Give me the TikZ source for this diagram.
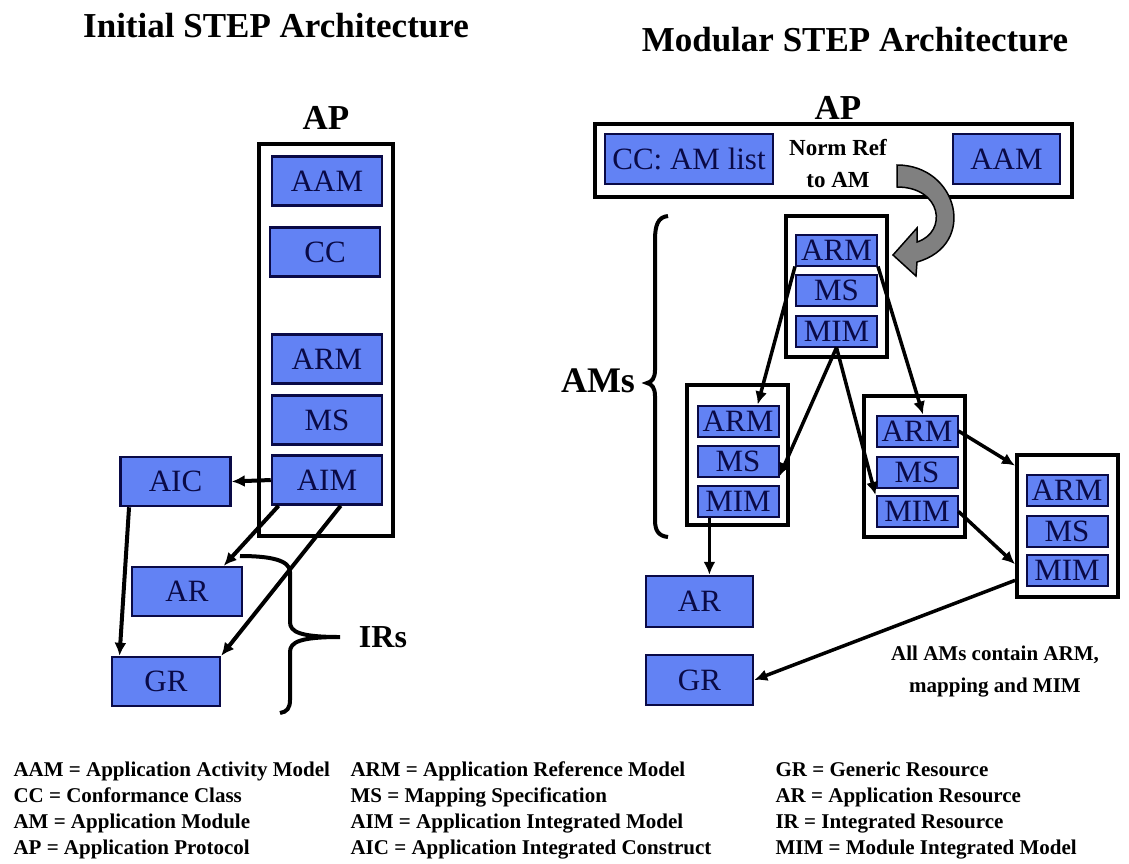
\documentclass[tikz,border=0pt]{standalone}
\usepackage{fontspec}
\setmainfont{Liberation Serif}
\usepackage{tikz}
\usetikzlibrary{arrows.meta,calc}
\definecolor{modblue}{RGB}{98,130,244}
\definecolor{modnavy}{RGB}{10,10,70}
\definecolor{normgray}{RGB}{128,128,128}
\newcommand{\pxfont}[1]{\fontsize{#1}{#1}\selectfont}

\begin{document}
\begin{tikzpicture}[x=1pt,y=-1pt,>=Latex,
  part/.style={draw=modnavy,line width=2.5pt,fill=modblue,inner sep=0pt,text=modnavy,font=\pxfont{31}},
  bigpart/.style={part,minimum width=110pt,minimum height=49pt},
  subpart/.style={part,line width=2pt,minimum width=81pt,minimum height=31pt},
  frame/.style={draw,line width=4pt,fill=white,inner sep=0pt},
  link/.style={line width=4pt,-{Latex[length=13pt,width=12pt]}},
  heading/.style={font=\bfseries\pxfont{35}},
  key/.style={anchor=base west,font=\bfseries\pxfont{21}}]
\useasboundingbox (0,0) rectangle (1129,863);

\node[heading] (tInit) at (276,26) {Initial STEP Architecture};
\node[heading] (tMod) at (855,40) {Modular STEP Architecture};

% initial architecture
\node[heading] (apL) at (326,118) {AP};
\node[frame,minimum width=134pt,minimum height=392pt] (apLbox) at (326,340) {};
\node[bigpart] (AAM) at (327,181) {AAM};
\node[bigpart] (CC) at (325,252) {CC};
\node[bigpart] (ARM) at (327,359) {ARM};
\node[bigpart] (MS) at (327,420) {MS};
\node[bigpart] (AIM) at (327,480) {AIM};
\node[bigpart] (AIC) at (175.5,481.5) {AIC};
\node[bigpart] (AR) at (187,591.5) {AR};
\node[bigpart,minimum width=108pt] (GR) at (166,681.5) {GR};

\draw[link] (AIM.west) -- (AIC.east);
\draw[link] (AIM.208) -- (AR.35);
\draw[link] (AIM.-62) -- (GR.north east);
\draw[link] (AIC.209) -- (GR.151);

\draw[line width=4pt] (240,556) .. controls (270,556) and (290,560) .. (290,572) -- (290,622)
  .. controls (290,632) and (300,637) .. (340,637) .. controls (300,637) and (290,642) .. (290,652)
  -- (290,700) .. controls (290,708) and (287,712) .. (280,713);
\node[font=\bfseries\pxfont{32}] (IRs) at (383,637) {IRs};

% modular architecture
\node[heading] (apR) at (838,108) {AP};
\node[frame,minimum width=477pt,minimum height=73pt] (apRbox) at (833.5,160.5) {};
\node[part,minimum width=168pt,minimum height=50pt] (ccList) at (689,159) {CC: AM list};
\node[part,minimum width=107pt,minimum height=50pt] (aamR) at (1006.5,159) {AAM};
\node[align=center,font=\bfseries\fontsize{23}{32}\selectfont] (normRef) at (838,164) {Norm Ref\\to AM};

\filldraw[fill=normgray,line width=1.5pt] (897,165) .. controls (958,165) and (978,245) .. (917,262)
  -- (916,276) -- (893,255) -- (917,228) -- (917,242)
  .. controls (948,232) and (942,187) .. (897,187) -- cycle;

\node[frame,minimum width=101pt,minimum height=141pt] (tAM) at (836.5,286.5) {};
\node[subpart] (tARM) at (836.5,250) {ARM};
\node[subpart] (tMS) at (836.5,290.5) {MS};
\node[subpart] (tMIM) at (836.5,331) {MIM};

\node[frame,minimum width=101pt,minimum height=140pt] (lAM) at (737.5,455) {};
\node[subpart] (lARM) at (738,421) {ARM};
\node[subpart] (lMS) at (738,461) {MS};
\node[subpart] (lMIM) at (738,501.5) {MIM};

\node[frame,minimum width=101pt,minimum height=141pt] (rAM) at (914.5,466.5) {};
\node[subpart] (rARM) at (917,431) {ARM};
\node[subpart] (rMS) at (917,472) {MS};
\node[subpart] (rMIM) at (917,511.5) {MIM};

\node[frame,minimum width=101pt,minimum height=142pt] (fAM) at (1067.5,526) {};
\node[subpart] (fARM) at (1067,490) {ARM};
\node[subpart] (fMS) at (1067,531) {MS};
\node[subpart] (fMIM) at (1067,570) {MIM};

\node[part,minimum width=107pt,minimum height=51pt] (arR) at (699.5,601.5) {AR};
\node[part,minimum width=107pt,minimum height=50pt] (grR) at (699.5,680) {GR};

\draw[link,line width=3.5pt] (tARM.south west) -- (lARM.40);
\draw[link,line width=3.5pt] (tARM.south east) -- (rARM.70);
\draw[link,line width=3.5pt] (tMIM.south) -- (lMS.-20);
\draw[link,line width=3.5pt] (tMIM.south) -- (rMIM.north west);
\draw[link,line width=3.5pt] (rARM.east) -- (fAM.131);
\draw[link,line width=3.5pt] (rMIM.east) -- (fAM.216);
\draw[link,line width=3.5pt] (lMIM.-150) -- (lMIM.-150 |- arR.north);
\draw[link,line width=3.5pt] (fAM.226) -- (grR.east);

\draw[line width=4pt] (668,216) .. controls (658,217) and (655,225) .. (655,240) -- (655,370)
  .. controls (655,378) and (652,382) .. (647,383) .. controls (652,384) and (655,388) .. (655,396)
  -- (655,520) .. controls (655,530) and (658,536) .. (668,537);
\node[font=\bfseries\pxfont{36}] (AMs) at (598,381) {AMs};

\node[align=center,font=\bfseries\fontsize{21}{32}\selectfont] (allAMs) at (995,672) {All AMs contain ARM,\\mapping and MIM};

% abbreviations
\node[key] (kAAM) at (10,776) {AAM = Application Activity Model};
\node[key] (kCC) at (10,802) {CC = Conformance Class};
\node[key] (kAM) at (10,828) {AM = Application Module};
\node[key] (kAP) at (10,854) {AP = Application Protocol};
\node[key] (kARM) at (347,776) {ARM = Application Reference Model};
\node[key] (kMS) at (347,802) {MS = Mapping Specification};
\node[key] (kAIM) at (347,828) {AIM = Application Integrated Model};
\node[key] (kAIC) at (347,854) {AIC = Application Integrated Construct};
\node[key] (kGR) at (772,776) {GR = Generic Resource};
\node[key] (kAR) at (772,802) {AR = Application Resource};
\node[key] (kIR) at (772,828) {IR = Integrated Resource};
\node[key] (kMIM) at (772,854) {MIM = Module Integrated Model};
\end{tikzpicture}
\end{document}
